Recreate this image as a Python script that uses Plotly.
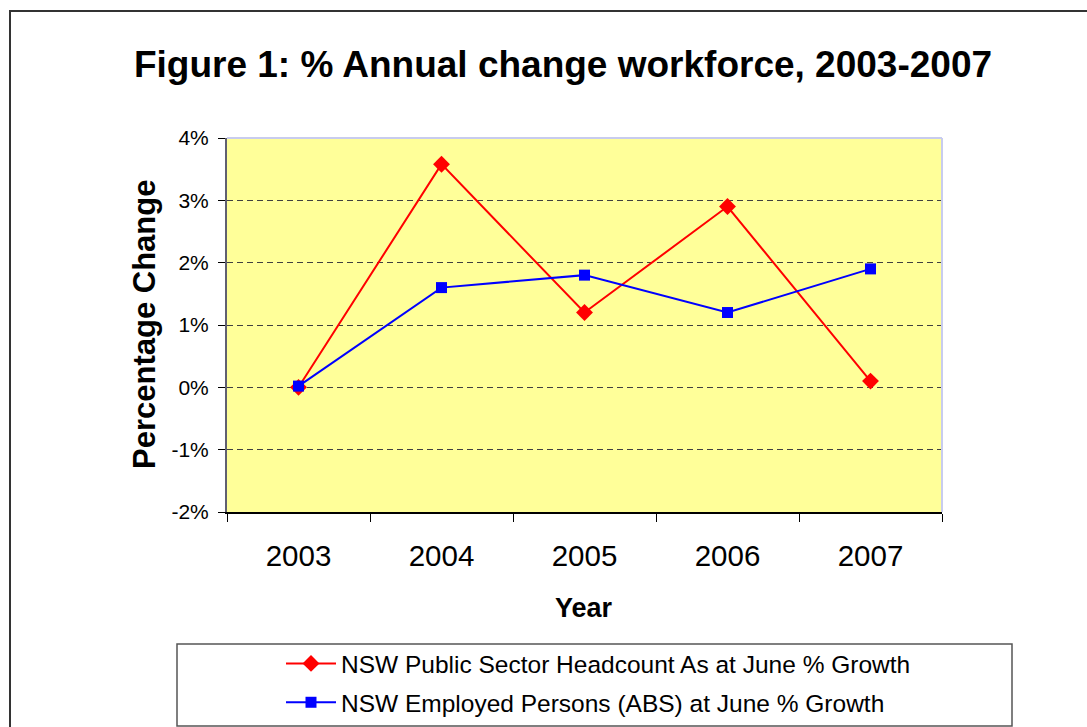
import plotly.graph_objects as go

years = ["2003", "2004", "2005", "2006", "2007"]
public_sector = [0.0, 3.58, 1.2, 2.9, 0.1]
employed = [0.02, 1.6, 1.8, 1.2, 1.9]
y_ticks = [-2, -1, 0, 1, 2, 3, 4]
y_tick_labels = ["-2%", "-1%", "0%", "1%", "2%", "3%", "4%"]

FONT = "Arial, Liberation Sans, sans-serif"
W, H = 1087, 727
L, R, T, B = 227, 942, 138, 512

def px_x(p):
    return (p - L) / (R - L)

def px_y(p):
    return (B - p) / (B - T)

fig = go.Figure()
fig.add_trace(go.Scatter(
    x=years, y=public_sector, mode="lines+markers",
    name="NSW Public Sector Headcount As at June % Growth",
    line=dict(color="#FF0000", width=2),
    marker=dict(symbol="diamond", size=13, color="#FF0000"),
    legendgroup="a",
))
fig.add_trace(go.Scatter(
    x=years, y=employed, mode="lines+markers",
    name="NSW Employed Persons (ABS) at June % Growth",
    line=dict(color="#0000FF", width=2),
    marker=dict(symbol="square", size=11, color="#0000FF"),
    legendgroup="b",
))

shapes = [
    # outer chart frame
    dict(type="rect", xref="paper", yref="paper",
         x0=px_x(10), x1=px_x(1100), y0=px_y(740), y1=px_y(11),
         line=dict(color="#333333", width=2), layer="below"),
    # legend box
    dict(type="rect", xref="paper", yref="paper",
         x0=px_x(177), x1=px_x(1012), y0=px_y(726), y1=px_y(644),
         line=dict(color="#555555", width=1.5), layer="below"),
    # plot area top/right border
    dict(type="line", xref="paper", yref="paper", x0=0, x1=1, y0=1, y1=1,
         line=dict(color="#C8CCEE", width=2), layer="above"),
    dict(type="line", xref="paper", yref="paper", x0=1, x1=1, y0=0, y1=1,
         line=dict(color="#C8CCEE", width=2), layer="above"),
]

annotations = [
    dict(text="<b>Percentage Change</b>", xref="paper", yref="paper",
         x=px_x(144), y=px_y(325), textangle=-90, showarrow=False,
         xanchor="center", yanchor="middle",
         font=dict(family=FONT, size=31, color="#000000")),
    dict(text="<b>Year</b>", xref="paper", yref="paper",
         x=px_x(584), y=px_y(608), showarrow=False,
         xanchor="center", yanchor="middle",
         font=dict(family=FONT, size=27, color="#000000")),
]

fig.update_layout(
    width=W, height=H,
    margin=dict(l=L, r=W - R, t=T, b=H - B, pad=0, autoexpand=False),
    paper_bgcolor="#FFFFFF",
    plot_bgcolor="#FFFF99",
    font=dict(family=FONT, color="#000000"),
    title=dict(text="<b>Figure 1: % Annual change workforce, 2003-2007</b>",
               x=563 / W, xref="container", xanchor="center",
               y=1 - 64 / H, yref="container", yanchor="middle",
               font=dict(family=FONT, size=37, color="#000000")),
    showlegend=True,
    legend=dict(
        x=px_x(281), y=px_y(641), xanchor="left", yanchor="top",
        bgcolor="rgba(0,0,0,0)", borderwidth=0,
        font=dict(family=FONT, size=24.5, color="#000000"),
        itemwidth=50, tracegroupgap=4, traceorder="grouped",
    ),
    shapes=shapes,
    annotations=annotations,
)

fig.update_xaxes(
    type="category", range=[-0.5, 4.5],
    tickson="boundaries", ticks="outside", ticklen=8, tickcolor="#000000",
    showline=True, linecolor="#000000", linewidth=1.5,
    showgrid=False, zeroline=False,
    tickfont=dict(family=FONT, size=29.5, color="#000000"),
    ticklabelstandoff=17,
)
fig.update_yaxes(
    range=[-2, 4], tickvals=y_ticks, ticktext=y_tick_labels,
    ticks="outside", ticklen=7, tickcolor="#000000",
    showline=True, linecolor="#606070", linewidth=2,
    showgrid=True, gridcolor="#404040", gridwidth=1, griddash="6px,4px",
    zeroline=False,
    tickfont=dict(family=FONT, size=21, color="#000000"),
    ticklabelstandoff=5,
)

fig.write_html(
    "out.html",
    config={"displayModeBar": False},
    post_script="document.body.style.margin='0';document.body.style.overflow='hidden';",
)
